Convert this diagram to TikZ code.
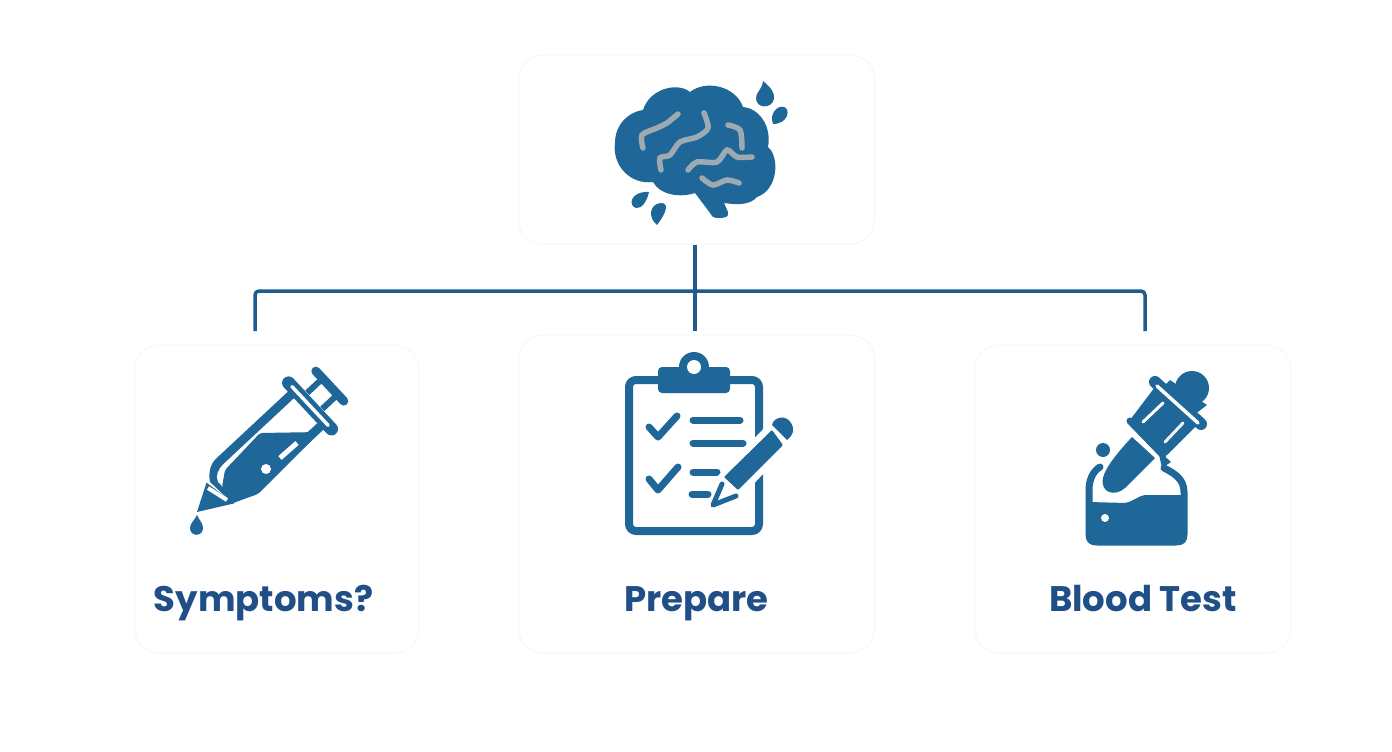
\documentclass[tikz,border=0pt]{standalone}
\usepackage{fontspec}
\setmainfont{Poppins}
\usepackage{tikz}
\definecolor{iconblue}{HTML}{1F6699}
\definecolor{linkblue}{HTML}{1F5B8F}
\definecolor{labelblue}{HTML}{1F4F86}
\definecolor{sulcus}{HTML}{9DAAB1}
\definecolor{cardline}{HTML}{F1F9FB}
\tikzstyle{card} = [rectangle, rounded corners = 24pt, inner sep = 0pt, draw = cardline, line width = 1pt, fill = white]
\tikzstyle{label} = [text = labelblue, anchor = base, font = \fontsize{35.5}{36}\selectfont\bfseries]
\tikzstyle{link} = [draw = linkblue, line width = 3.5pt]
\tikzstyle{icon} = [fill = iconblue]
\tikzstyle{stroke} = [draw = iconblue, line cap = round, line join = round, line width = 7pt]
\tikzstyle{gap} = [draw = white, line cap = round, line width = 3pt]
\tikzstyle{fold} = [draw = sulcus, line cap = round, line width = 5.5pt]

\begin{document}
\begin{tikzpicture}[x = 1pt, y = -1pt]
\useasboundingbox (0,0) rectangle (1392,752);

\node(brain) [card, minimum width = 356pt, minimum height = 189pt] at (696.5,149.5) {};
\node(symptoms) [card, minimum width = 284pt, minimum height = 308pt] at (277,499) {};
\node(prepare) [card, minimum width = 356pt, minimum height = 318pt] at (696.5,494) {};
\node(blood) [card, minimum width = 316pt, minimum height = 308pt] at (1133,499) {};

\node(symptomstext) [label] at (263.5,611) {Symptoms?};
\node(preparetext) [label] at (696.5,611) {Prepare};
\node(bloodtext) [label] at (1143,611) {Blood Test};

\coordinate (busleft) at (255,331);
\coordinate (cornerleft) at (255,291);
\coordinate (busmid) at (695,331);
\coordinate (cornerright) at (1145,291);
\coordinate (busright) at (1145,331);

\draw [link] (brain.south -| busmid) -- (busmid);
\draw [link, rounded corners = 4pt] (busleft) -- (cornerleft) -- (cornerright) -- (busright);

% brain
\fill [icon] (643,110) .. controls (650,88) and (678,82) .. (690,92) .. controls (705,80) and (735,85) .. (743,107)
  .. controls (758,108) and (772,125) .. (768,147) .. controls (780,157) and (778,190) .. (757,197)
  .. controls (750,205) and (738,205) .. (724,203) -- (728,212) .. controls (729,217) and (726,218) .. (716,218)
  .. controls (713,218) and (712,216) .. (710,213) -- (695,193) .. controls (680,198) and (660,195) .. (653,182)
  .. controls (630,185) and (612,165) .. (615,143) .. controls (615,125) and (628,112) .. (643,110) -- cycle;
\draw [fold] plot [smooth] coordinates {(643,148) (642,135) (657,128) (667,123) (678,114)};
\draw [fold] plot [smooth] coordinates {(704,113) (708,128) (697,137) (680,142) (670,155) (660,158) (661,170)};
\draw [fold] plot [smooth] coordinates {(728,125) (740,130) (742,148)};
\draw [fold] plot [smooth] coordinates {(688,170) (697,162) (717,162) (727,150) (737,157) (752,157)};
\draw [fold] plot [smooth] coordinates {(702,178) (713,185) (727,180) (739,183)};
\fill [icon] (763,81) .. controls (770,87) and (775,92) .. (774,99) .. controls (772,109) and (756,109) .. (756,98) .. controls (756,92) and (762,90) .. (763,81) -- cycle;
\fill [icon] (773,124) .. controls (769,113) and (778,105) .. (784,107) .. controls (791,109) and (788,124) .. (773,124) -- cycle;
\fill [icon] (649,192) .. controls (647,201) and (642,209) .. (636,208) .. controls (628,206) and (630,191) .. (649,192) -- cycle;
\fill [icon] (657,225) .. controls (648,218) and (649,204) .. (661,203) .. controls (669,203) and (667,212) .. (657,225) -- cycle;

% syringe
\begin{scope}[shift = {(197,512)}, rotate = 43]
\fill [icon] (0,0) -- (27,-15) -- (33,19) -- cycle;
\fill [icon] (155,-26) -- (50,-26) .. controls (42,-26) and (34,-20) .. (30,-13) -- (32,18)
  .. controls (45,22) and (55,28) .. (62,26) -- (155,26) -- cycle;
\fill [white] (150,-17) -- (52,-17) .. controls (45,-17) and (38,-14) .. (36,-8) -- (36,16) -- (150,17) -- cycle;
\draw [stroke, line width = 13pt] (155,-32) -- (155,31);
\draw [gap, line width = 3.5pt] (155,-27) -- (155,26);
\draw [stroke, line width = 6pt, line cap = butt] (162,-12) -- (180,-12) (162,10) -- (180,10);
\draw [stroke, line width = 9pt] (183,-22) -- (183,19);
\end{scope}
\fill [icon, rounded corners = 2pt] (260,433) -- (320,432) -- (258,494) -- (233,503) -- (222,487) -- (225,470) -- cycle;
\draw [gap, line width = 4pt, line cap = butt] (208,488) -- (227,500);
\draw [gap, line width = 5pt, line cap = butt] (280,458) -- (297,443);
\fill [white] (266,469) circle (5);
\fill [icon] (197,515) .. controls (199,520) and (203,523) .. (203,528) .. controls (203,537) and (190,537) .. (190,528) .. controls (190,523) and (195,520) .. (197,515) -- cycle;

% clipboard
\draw [stroke, line width = 8pt, rounded corners = 7pt] (629,380) rectangle (759,531);
\fill [icon] (694,367) circle (15);
\fill [icon, rounded corners = 4pt] (658,367) rectangle (730,393);
\fill [white] (694,367) circle (7);
\draw [stroke] (649,427) -- (658,437) -- (677,416);
\draw [stroke] (649,479) -- (658,490) -- (678,467);
\draw [stroke] (693,420) -- (740,420);
\draw [stroke] (693,443) -- (743,443);
\draw [stroke] (693,472) -- (717,472);
\draw [stroke] (692,494) -- (708,494);
\fill [white] (768,424) -- (800,430) -- (795,440) -- (748,490) -- (718,476) -- cycle;
\fill [icon, rounded corners = 1pt] (772,430) -- (783,445) -- (738,490) -- (724,477) -- cycle;
\fill [icon] (772,425) .. controls (774,416) and (787,415) .. (791,423) .. controls (795,429) and (793,436) .. (787,440) -- cycle;
\draw [stroke, line width = 5pt] (722,484) -- (713,505) -- (736,496);

% dropper
\draw [stroke] (1100,467) .. controls (1093,471) and (1089,480) .. (1089,490) -- (1089,534)
  .. controls (1089,540) and (1091,542) .. (1097,542) -- (1176,542) .. controls (1182,542) and (1184,540) .. (1184,534)
  -- (1184,492) .. controls (1184,480) and (1176,474) .. (1164,468);
\fill [icon, rounded corners = 3pt] (1088,502) -- (1127,503) -- (1143,495) -- (1184,495) -- (1184,541) -- (1088,541) -- cycle;
\fill [white] (1105,518) circle (4);
\fill [icon] (1103,450) circle (7);
\fill [icon] (1132,437) -- (1155,458) -- (1125,488) .. controls (1115,497) and (1100,493) .. (1103,478) .. controls (1105,468) and (1118,452) .. (1132,437) -- cycle;
\fill [icon] (1192,388) circle (17);
\fill [icon] (1170,380) -- (1207,405) -- (1190,418) -- (1160,390) -- cycle;
\fill [icon] (1155,387) -- (1197,425) -- (1167,455) -- (1130,420) -- cycle;
\draw [stroke, line width = 7pt] (1130,421) -- (1163,455);
\fill [icon] (1158,450) -- (1171,462) -- (1162,468) -- cycle;
\draw [stroke, line width = 12pt] (1155,382) -- (1201,424);
\draw [gap, line width = 3.5pt] (1157,386) -- (1198,423);
\draw [gap] (1143,422) -- (1163,403);
\draw [gap, draw = white!85!sulcus] (1165,442) -- (1183,423);
\end{tikzpicture}
\end{document}
